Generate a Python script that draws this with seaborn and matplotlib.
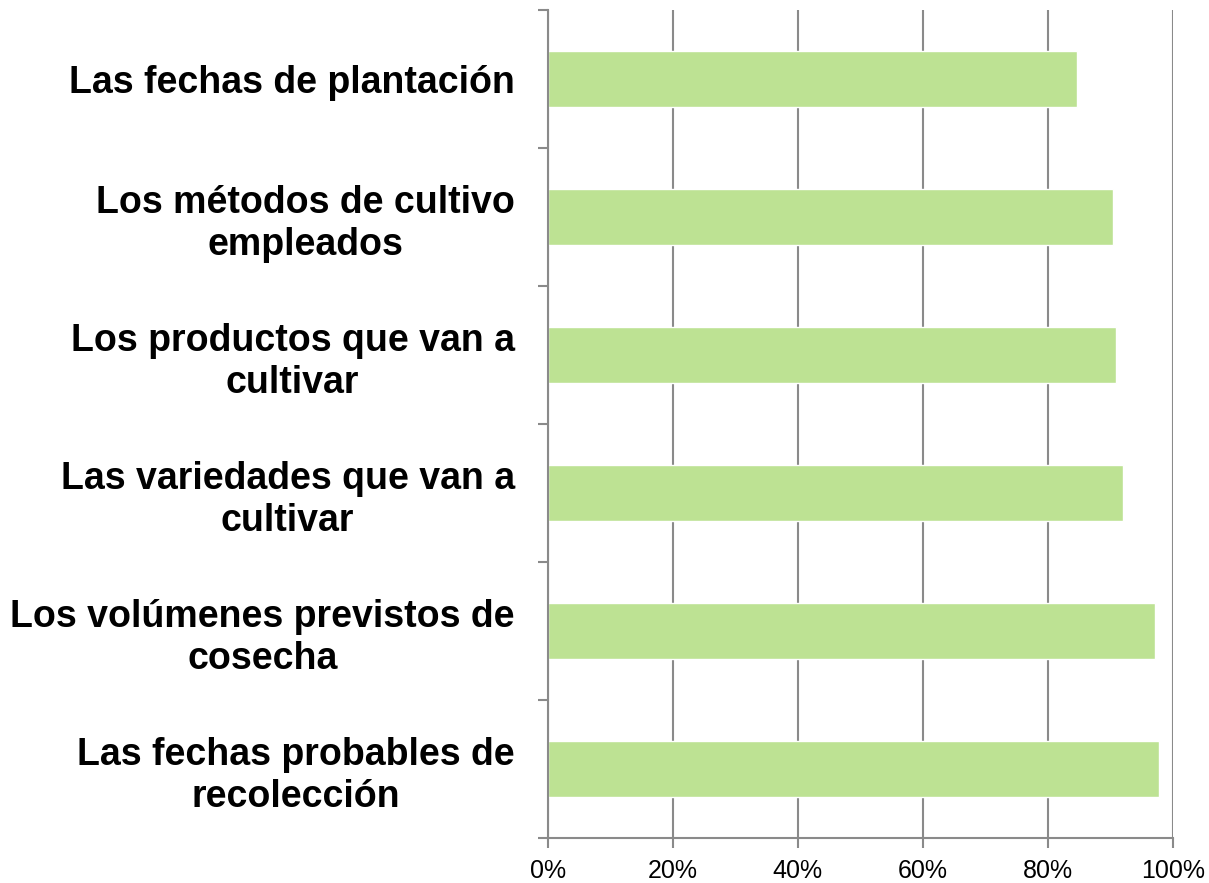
import matplotlib.pyplot as plt
import seaborn as sns
import pandas as pd
from matplotlib.ticker import FixedLocator, PercentFormatter

# Data
categories = [
    'Las fechas de plantación',
    'Los métodos de cultivo\nempleados',
    'Los productos que van a\ncultivar',
    'Las variedades que van a\ncultivar',
    'Los volúmenes previstos de\ncosecha',
    'Las fechas probables de\nrecolección',
]
values = [84.7, 90.4, 90.9, 92.1, 97.2, 97.8]
xticks = [0, 20, 40, 60, 80, 100]

df = pd.DataFrame({'categoria': categories, 'valor': values})

sns.set_style('white')
plt.rcParams['font.family'] = ['Liberation Sans', 'DejaVu Sans']

fig = plt.figure(figsize=(12.09, 8.83), dpi=100)
ax = fig.add_axes([0.4533, 0.051, 0.5167, 0.9377])

sns.barplot(data=df, x='valor', y='categoria', orient='h', color='#BDE293',
            saturation=1, width=0.4, ax=ax)

grid_col = '#8A8A8A'
ax.set_xlim(0, 100)
ax.set_ylim(5.5, -0.5)
ax.set_xticks(xticks)
ax.xaxis.set_major_formatter(PercentFormatter(decimals=0))
ax.grid(axis='x', color=grid_col, linewidth=1.5)
ax.set_axisbelow(True)

for side in ['top', 'right']:
    ax.spines[side].set_visible(False)
for side in ['left', 'bottom']:
    ax.spines[side].set_color(grid_col)
    ax.spines[side].set_linewidth(1.5)

# category boundary ticks on the y axis
ax.yaxis.set_minor_locator(FixedLocator([i - 0.5 for i in range(len(categories) + 1)]))
ax.tick_params(axis='y', which='minor', left=True, length=7, width=1.5, color=grid_col)
ax.tick_params(axis='y', which='major', length=0, pad=24, labelcolor='black')
ax.tick_params(axis='x', which='major', bottom=True, length=7, width=1.5,
               color=grid_col, pad=8, labelcolor='black')

for lab in ax.get_yticklabels():
    lab.set_fontsize(27)
    lab.set_fontweight('bold')
    lab.set_multialignment('center')
    lab.set_linespacing(1.2)
for lab in ax.get_xticklabels():
    lab.set_fontsize(18)

ax.set_xlabel('')
ax.set_ylabel('')

fig.savefig('out.png', dpi=100)
